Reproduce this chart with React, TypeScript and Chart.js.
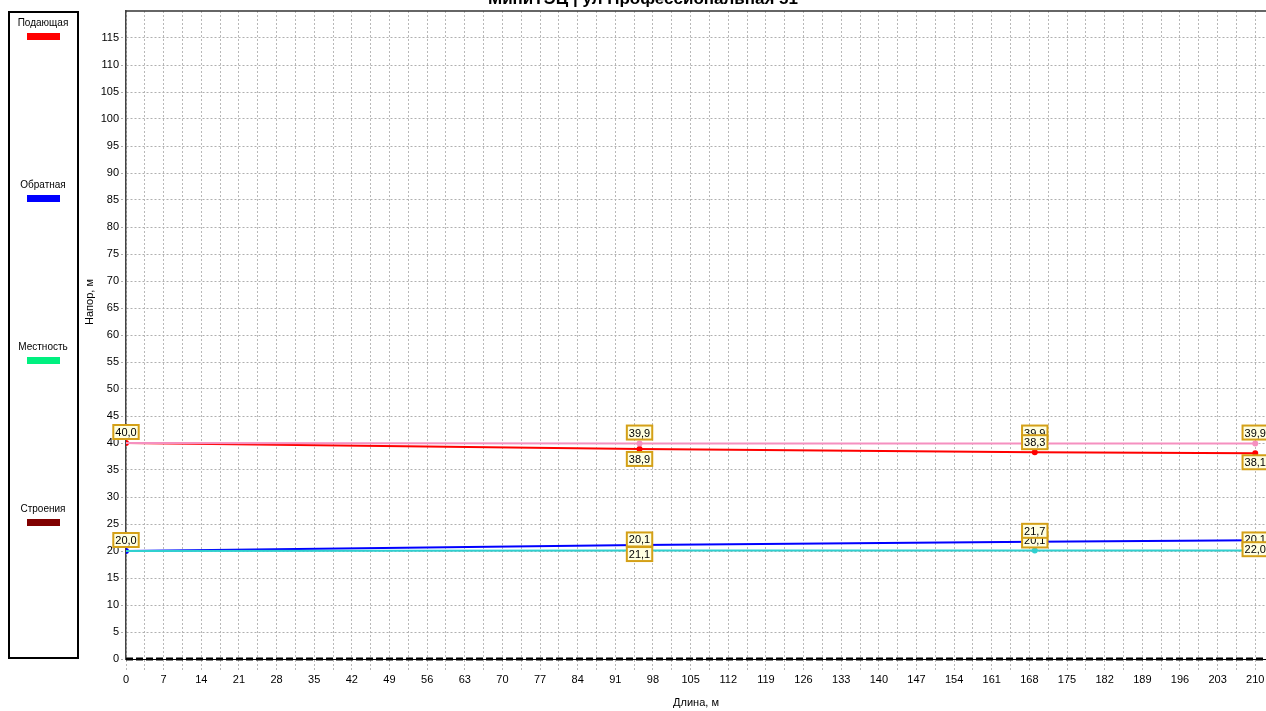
import React, { useEffect, useRef } from "react";
import { Chart, registerables } from "chart.js";

Chart.register(...registerables);

// ---- data ----
const distances = [0, 95.5, 169, 210];
const supplyHead = [40.0, 38.9, 38.3, 38.1]; // Подающая
const supplyRef = [40.0, 39.9, 39.9, 39.9];
const returnHead = [20.0, 21.1, 21.7, 22.0]; // Обратная
const returnRef = [20.0, 20.1, 20.1, 20.1];
const groundX = [0, 212];
const groundY = [0, 0];
const xTickLabels = [0, 7, 14, 21, 28, 35, 42, 49, 56, 63, 70, 77, 84, 91, 98, 105, 112, 119, 126, 133, 140, 147, 154, 161, 168, 175, 182, 189, 196, 203, 210];
const yTickLabels = [0, 5, 10, 15, 20, 25, 30, 35, 40, 45, 50, 55, 60, 65, 70, 75, 80, 85, 90, 95, 100, 105, 110, 115];
const legendNames = ["Подающая", "Обратная", "Местность", "Строения"];
const legendColors = ["#FF0000", "#0000FF", "#00F080", "#800000"];
const chartTitle = "МиниТЭЦ | ул Профессиональная 51";
const xTitle = "Длина, м";
const yTitle = "Напор, м";

// label placement (pixel offsets from the point, null = no label)
const labelPlan = [
  { values: supplyRef, dy: [null, -11, -11, -11] },
  { values: supplyHead, dy: [-11, 10, -10, 9] },
  { values: returnRef, dy: [null, -11, -10, -11] },
  { values: returnHead, dy: [-11, 9, -11, 9] },
];

const FONT = "'Liberation Sans', Arial, sans-serif";

const fmt = (v: number) => v.toFixed(1).replace(".", ",");

const overlayPlugin = {
  id: "overlay",
  beforeDraw(chart: any) {
    const ctx = chart.ctx;
    ctx.save();
    ctx.fillStyle = "#fff";
    ctx.fillRect(0, 0, chart.width, chart.height);
    // legend box
    ctx.strokeStyle = "#000";
    ctx.lineWidth = 2;
    ctx.strokeRect(9, 12, 69, 646);
    ctx.font = `10px ${FONT}`;
    ctx.textAlign = "center";
    ctx.textBaseline = "middle";
    legendNames.forEach((n, i) => {
      const ty = 23 + i * 162;
      ctx.fillStyle = "#000";
      ctx.fillText(n, 43, ty);
      ctx.fillStyle = legendColors[i];
      ctx.fillRect(27, ty + 10, 33, 7);
    });
    // title
    ctx.font = `bold 17px ${FONT}`;
    ctx.fillStyle = "#000";
    ctx.textBaseline = "alphabetic";
    ctx.fillText(chartTitle, 643, 4);
    // axis titles
    ctx.font = `11px ${FONT}`;
    ctx.textBaseline = "middle";
    ctx.fillText(xTitle, 696, 703);
    ctx.save();
    ctx.translate(90, 302);
    ctx.rotate(-Math.PI / 2);
    ctx.fillText(yTitle, 0, 0);
    ctx.restore();
    ctx.restore();
  },
  afterDraw(chart: any) {
    const ctx = chart.ctx;
    const a = chart.chartArea;
    ctx.save();
    ctx.strokeStyle = "#333";
    ctx.lineWidth = 1.5;
    ctx.beginPath();
    ctx.moveTo(a.left, a.top);
    ctx.lineTo(a.right, a.top);
    ctx.stroke();
    ctx.restore();
  },
  afterDatasetsDraw(chart: any) {
    const ctx = chart.ctx;
    const xs = chart.scales.x;
    const ys = chart.scales.y;
    ctx.save();
    ctx.font = `11px ${FONT}`;
    ctx.textAlign = "center";
    ctx.textBaseline = "middle";
    labelPlan.forEach((p) => {
      p.dy.forEach((dy, i) => {
        if (dy === null) return;
        const txt = fmt(p.values[i]);
        const px = xs.getPixelForValue(distances[i]);
        const py = ys.getPixelForValue(p.values[i]) + dy;
        const w = ctx.measureText(txt).width + 4;
        const h = 14;
        ctx.fillStyle = "#FFFFE1";
        ctx.fillRect(px - w / 2, py - h / 2, w, h);
        ctx.strokeStyle = "#D4A017";
        ctx.lineWidth = 2;
        ctx.strokeRect(px - w / 2, py - h / 2, w, h);
        ctx.fillStyle = "#000";
        ctx.fillText(txt, px, py + 1);
      });
    });
    ctx.restore();
  },
};

export default function App() {
  const ref = useRef<HTMLCanvasElement>(null);
  useEffect(() => {
    const toXY = (ys: number[]) => ys.map((y, i) => ({ x: distances[i], y }));
    const chart = new Chart(ref.current!, {
      type: "line",
      data: {
        datasets: [
          {
            label: "ground",
            data: groundX.map((x, i) => ({ x, y: groundY[i] })),
            borderColor: "#000",
            borderWidth: 3,
            borderDash: [7, 3],
            pointRadius: 0,
            clip: false as any,
          },
          {
            label: "supplyRef",
            data: toXY(supplyRef),
            borderColor: "#F590C0",
            backgroundColor: "#F590C0",
            borderWidth: 2,
            pointRadius: [0, 2, 2, 2],
          },
          {
            label: "supplyHead",
            data: toXY(supplyHead),
            borderColor: "#FF0000",
            backgroundColor: "#FF0000",
            borderWidth: 2,
            pointRadius: 2,
          },
          {
            label: "returnRef",
            data: toXY(returnRef),
            borderColor: "#30D0D0",
            backgroundColor: "#30D0D0",
            borderWidth: 2,
            pointRadius: [0, 2, 2, 2],
          },
          {
            label: "returnHead",
            data: toXY(returnHead),
            borderColor: "#0000FF",
            backgroundColor: "#0000FF",
            borderWidth: 2,
            pointRadius: 2,
          },
        ],
      },
      options: {
        animation: false,
        responsive: false,
        layout: { autoPadding: false, padding: { left: 0, right: 0, top: 11, bottom: 0 } },
        plugins: { legend: { display: false }, tooltip: { enabled: false } },
        elements: { line: { tension: 0 } },
        scales: {
          x: {
            type: "linear",
            min: 0,
            max: 212,
            afterFit: (s: any) => {
              s.height = 52;
              s.paddingLeft = 0;
              s.paddingRight = 0;
            },
            afterBuildTicks: (s: any) => {
              const t: any[] = [];
              xTickLabels.forEach((v, i) => {
                t.push({ value: v });
                if (i < xTickLabels.length - 1) t.push({ value: v + 3.5 });
              });
              s.ticks = t;
            },
            ticks: {
              autoSkip: false,
              maxRotation: 0,
              padding: 1,
              color: "#000",
              font: { family: FONT, size: 11 },
              callback: (v: any) => (xTickLabels.includes(Number(v)) ? String(v) : ""),
            },
            grid: {
              color: "#b8b8b8",
              tickLength: 13,
              tickBorderDash: [2, 2],
              lineWidth: 1,
            } as any,
            border: { display: true, color: "#000", width: 1, dash: [2, 2] } as any,
          },
          y: {
            type: "linear",
            min: 0,
            max: 120,
            afterFit: (s: any) => {
              s.width = 126;
              s.paddingTop = 0;
              s.paddingBottom = 0;
            },
            afterBuildTicks: (s: any) => {
              s.ticks = yTickLabels.map((v) => ({ value: v }));
            },
            ticks: {
              padding: 2,
              color: "#000",
              font: { family: FONT, size: 11 },
            },
            grid: {
              color: "#b0b0b0",
              tickLength: 5,
              lineWidth: 1,
              tickBorderDash: [2, 2],
            } as any,
            border: { display: true, color: "#444", width: 1.5, dash: [2, 2] } as any,
          },
        },
      },
      plugins: [overlayPlugin],
    } as any);
    return () => chart.destroy();
  }, []);
  return (
    <div style={{ position: "absolute", left: 0, top: 0, width: 1266, height: 711 }}>
      <canvas ref={ref} width={1266} height={711} style={{ width: 1266, height: 711 }} />
    </div>
  );
}
